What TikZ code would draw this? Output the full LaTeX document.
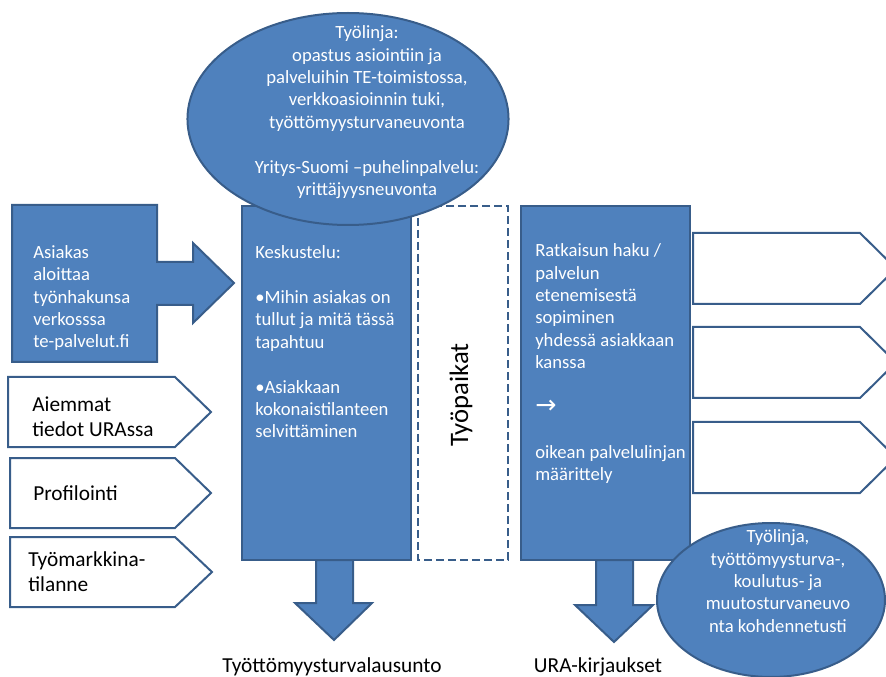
\documentclass[tikz,border=0pt]{standalone}
\usepackage{fontspec}
\setmainfont{Carlito}
\newfontfamily\arrowfont{DejaVu Sans}
\definecolor{ofblue}{HTML}{4F81BD}
\definecolor{ofedge}{HTML}{385D8A}
\begin{document}
\begin{tikzpicture}[x=0.75pt,y=-0.75pt,
  blueshape/.style={fill=ofblue,draw=ofedge,line width=1.5pt,line join=miter},
  whiteshape/.style={fill=white,draw=ofedge,line width=1.5pt,line join=miter},
  dashbox/.style={fill=white,draw=ofedge,line width=1.6pt,dash pattern=on 6pt off 3pt},
  wtxt/.style={text=white,inner sep=0pt,align=left,anchor=north west,
    font=\fontsize{14}{16.8}\selectfont,execute at begin node=\strut},
  wctxt/.style={wtxt,align=center,anchor=north},
  btxt/.style={text=black,inner sep=0pt,align=left,anchor=north west,
    font=\fontsize{16}{18.75}\selectfont,execute at begin node=\strut},
  lbl/.style={text=black,inner sep=0pt,anchor=base,font=\fontsize{16}{18.75}\selectfont}
]
\useasboundingbox (0,0) rectangle (886,677);
\begin{scope}
\clip (0,0) rectangle (886,677);

% customer starts online: box with arrow
\draw[blueshape] (12,205) -- (157,205) -- (157,262) -- (193,262) -- (193,243)
  -- (234,283) -- (193,323) -- (193,305) -- (157,305) -- (157,362) -- (12,362) -- cycle;
\node[wtxt] (asiakas) at (33,245) {Asiakas\\aloittaa\\työnhakunsa\\verkosssa\\te-palvelut.fi};

% inputs on the left
\draw[whiteshape] (8,377) -- (175,377) -- (211,412) -- (175,447) -- (8,447) -- cycle;
\draw[whiteshape] (10,458) -- (175,458) -- (211,493) -- (175,528) -- (10,528) -- cycle;
\draw[whiteshape] (10,537) -- (175,537) -- (212,572) -- (175,607) -- (10,607) -- cycle;
\node[btxt] (aiemmat) at (32,396.5) {Aiemmat\\tiedot URAssa};
\node[btxt] (profilointi) at (33,483) {Profilointi};
\node[btxt] (tyomarkkina) at (28,551) {Työmarkkina-\\tilanne};

% discussion column and its output arrow
\draw[blueshape] (242,206) rectangle (411,560);
\draw[blueshape] (316,560) -- (353,560) -- (353,603) -- (372,603) -- (334,640)
  -- (295,603) -- (316,603) -- cycle;
\node[wtxt] (keskustelu) at (255,245.5) {Keskustelu:\\[16.8pt]%
  •Mihin asiakas on\\tullut ja mitä tässä\\tapahtuu\\[16.8pt]%
  •Asiakkaan\\kokonaistilanteen\\selvittäminen};

% jobs column
\draw[dashbox] (418,206) rectangle (508,560);
\node[text=black,inner sep=0pt,rotate=90,font=\fontsize{20}{24}\selectfont]
  (tyopaikat) at (461,395) {Työpaikat};

% solution column and its output arrow
\draw[blueshape] (521,206) rectangle (690,560);
\draw[blueshape] (596,560) -- (633,560) -- (633,605) -- (653,605) -- (614,642)
  -- (575,605) -- (596,605) -- cycle;
\node[wtxt] (ratkaisu) at (535,243.5) {Ratkaisun haku /\\palvelun\\etenemisestä\\sopiminen\\%
  yhdessä asiakkaan\\kanssa\\[16.8pt]{\arrowfont\fontsize{19}{16.8}\selectfont →}\\[16.8pt]%
  oikean palvelulinjan\\määrittely};

% service lines on the right
\draw[whiteshape] (693,233) -- (860,233) -- (896,268.5) -- (860,304) -- (693,304) -- cycle;
\draw[whiteshape] (693,327) -- (860,327) -- (896,362.5) -- (860,398) -- (693,398) -- cycle;
\draw[whiteshape] (693,422) -- (860,422) -- (896,457.5) -- (860,493) -- (693,493) -- cycle;

% advisory ellipses
\draw[blueshape] (348,119) ellipse [x radius=120.4pt, y radius=79.5pt];
\node[wctxt] (tyolinja) at (367,25.5) {Työlinja:\\opastus asiointiin ja\\%
  palveluihin TE-toimistossa,\\verkkoasioinnin tuki,\\työttömyysturvaneuvonta\\[16.8pt]%
  Yritys-Suomi –puhelinpalvelu:\\yrittäjyysneuvonta};

\draw[blueshape] (771,600) ellipse [x radius=85.5pt, y radius=57.75pt];
\node[wctxt] (kohdennettu) at (778,529.5) {Työlinja,\\työttömyysturva-,\\%
  koulutus- ja\\muutosturvaneuvo\\nta kohdennetusti};

% outputs
\node[lbl] (lausunto) at (332,672) {Työttömyysturvalausunto};
\node[lbl] (kirjaukset) at (598,672) {URA-kirjaukset};
\end{scope}
\end{tikzpicture}
\end{document}
